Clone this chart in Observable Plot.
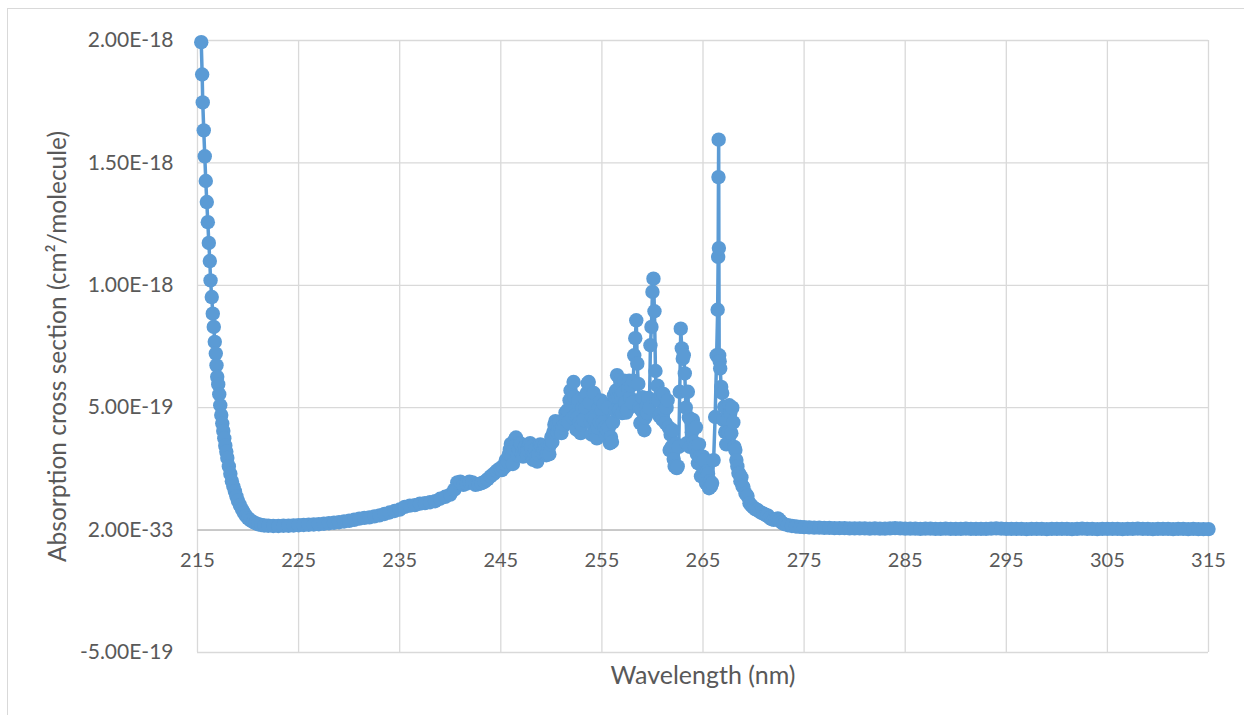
<!DOCTYPE html>
<html>
<head>
<meta charset="utf-8">
<script src="https://cdn.jsdelivr.net/npm/d3@7"></script>
<script src="https://cdn.jsdelivr.net/npm/@observablehq/plot@0.6"></script>
<style>
  html, body { margin: 0; padding: 0; background: #fff; }
  #frame { position: absolute; left: 7px; top: 8px; width: 1400px; height: 900px;
           border-left: 1px solid #d9d9d9; border-top: 1px solid #d9d9d9; }
  #chart { position: absolute; left: 0; top: 0; }
</style>
</head>
<body>
<div id="frame"></div>
<div id="chart"></div>
<script>
// Absorption cross section, in units of 1e-19 cm²/molecule, against wavelength in nm.

// Steep short-wavelength edge
const edgeNm = [215.37, 215.46, 215.52, 215.62, 215.72, 215.82, 215.92, 216.02, 216.12, 216.22,
                216.29, 216.41, 216.51, 216.61, 216.71, 216.81, 216.88, 216.95, 217.05, 217.15,
                217.25, 217.35, 217.45, 217.55, 217.65, 217.75, 217.85, 217.95, 218.1, 218.25,
                218.4, 218.55, 218.7, 218.85, 219.0, 219.2, 219.4, 219.6, 219.8, 220.0,
                220.25, 220.5, 220.75, 221.0, 221.3, 221.6, 222.0];
const edgeSigma = [19.93, 18.61, 17.47, 16.33, 15.27, 14.26, 13.40, 12.58, 11.73, 10.99,
                   10.20, 9.52, 8.84, 8.30, 7.69, 7.21, 6.73, 6.26, 5.95, 5.55,
                   5.1, 4.7, 4.35, 4.05, 3.75, 3.45, 3.2, 2.95, 2.6, 2.3,
                   2.0, 1.78, 1.58, 1.38, 1.2, 1.02, 0.85, 0.7, 0.58, 0.48,
                   0.4, 0.33, 0.28, 0.24, 0.21, 0.19, 0.18];

// Slowly rising continuum
const plateauNm = [222.5, 223, 223.5, 224, 224.5, 225, 225.5, 226, 226.5, 227,
                   227.5, 228, 228.5, 229, 229.5, 230, 230.5, 231, 231.5, 232,
                   232.5, 233, 233.5, 234, 234.5, 235, 235.5, 236, 236.5, 237,
                   237.5, 238, 238.5, 239, 239.5, 240, 240.4, 240.7, 241.0, 241.3,
                   241.6, 241.9, 242.2, 242.5, 242.8, 243.1, 243.4, 243.7, 244.0, 244.3,
                   244.6, 244.85];
const plateauSigma = [0.17, 0.17, 0.18, 0.18, 0.19, 0.2, 0.21, 0.22, 0.23, 0.24,
                      0.26, 0.28, 0.3, 0.32, 0.35, 0.38, 0.42, 0.47, 0.5, 0.52,
                      0.56, 0.6, 0.66, 0.72, 0.78, 0.84, 0.95, 1.0, 1.02, 1.08,
                      1.1, 1.14, 1.18, 1.28, 1.36, 1.45, 1.65, 1.95, 1.98, 1.85,
                      1.9, 1.98, 1.95, 1.85, 1.88, 1.92, 1.98, 2.08, 2.2, 2.3,
                      2.42, 2.5];

// Vibronic band structure, 245.0–265.9 nm
const bandNm = [245.0, 245.1, 245.2, 245.3, 245.4, 245.5, 245.6, 245.7, 245.8, 245.9,
                246.0, 246.1, 246.2, 246.3, 246.4, 246.5, 246.6, 246.7, 246.8, 246.9,
                247.0, 247.1, 247.2, 247.3, 247.4, 247.5, 247.6, 247.7, 247.8, 247.9,
                248.0, 248.1, 248.2, 248.3, 248.4, 248.5, 248.6, 248.7, 248.8, 248.9,
                249.0, 249.1, 249.2, 249.3, 249.4, 249.5, 249.6, 249.7, 249.8, 249.9,
                250.0, 250.1, 250.2, 250.3, 250.4, 250.5, 250.6, 250.7, 250.8, 250.9,
                251.0, 251.1, 251.2, 251.3, 251.4, 251.5, 251.6, 251.7, 251.8, 251.9,
                252.0, 252.1, 252.2, 252.3, 252.4, 252.5, 252.6, 252.7, 252.8, 252.9,
                253.0, 253.1, 253.2, 253.3, 253.4, 253.5, 253.6, 253.7, 253.8, 253.9,
                254.0, 254.1, 254.2, 254.3, 254.4, 254.5, 254.6, 254.7, 254.8, 254.9,
                255.0, 255.1, 255.2, 255.3, 255.4, 255.5, 255.6, 255.7, 255.8, 255.9,
                256.0, 256.1, 256.2, 256.3, 256.4, 256.5, 256.6, 256.7, 256.8, 256.9,
                257.0, 257.1, 257.2, 257.3, 257.4, 257.5, 257.6, 257.7, 257.8, 257.9,
                258.0, 258.1, 258.2, 258.3, 258.4, 258.5, 258.6, 258.7, 258.8, 258.9,
                259.0, 259.1, 259.2, 259.3, 259.4, 259.5, 259.6, 259.7, 259.8, 259.9,
                260.0, 260.1, 260.2, 260.3, 260.4, 260.5, 260.6, 260.7, 260.8, 260.9,
                261.0, 261.1, 261.2, 261.3, 261.4, 261.5, 261.6, 261.7, 261.8, 261.9,
                262.0, 262.1, 262.2, 262.3, 262.4, 262.5, 262.6, 262.7, 262.8, 262.9,
                263.0, 263.1, 263.2, 263.3, 263.4, 263.5, 263.6, 263.7, 263.8, 263.9,
                264.0, 264.1, 264.2, 264.3, 264.4, 264.5, 264.6, 264.7, 264.8, 264.9,
                265.0, 265.1, 265.2, 265.3, 265.4, 265.5, 265.6, 265.7, 265.8, 265.9];
const bandSigma = [2.5, 2.45, 2.6, 2.55, 2.7, 2.86, 2.65, 2.8, 3.1, 3.3,
                   3.52, 3.0, 2.7, 3.3, 3.7, 3.78, 3.5, 3.05, 3.3, 3.55,
                   3.5, 3.1, 3.0, 3.3, 3.4, 3.2, 3.05, 3.3, 3.5, 3.55,
                   3.4, 3.0, 2.87, 3.1, 3.3, 3.0, 2.8, 3.1, 3.4, 3.5,
                   3.45, 3.15, 3.3, 3.45, 3.3, 3.06, 3.1, 3.3, 3.1, 3.5,
                   3.8, 3.6, 4.0, 4.3, 4.45, 4.3, 4.0, 4.2, 4.4, 4.1,
                   3.96, 4.2, 4.5, 4.3, 4.8, 4.5, 4.9, 4.4, 5.3, 5.7,
                   5.4, 4.6, 6.05, 5.44, 4.7, 4.1, 4.6, 5.3, 4.4, 3.96,
                   4.3, 5.0, 4.5, 5.4, 5.0, 5.6, 6.0, 6.05, 5.2, 4.4,
                   3.9, 4.6, 5.6, 4.5, 4.0, 3.75, 4.2, 5.0, 4.4, 5.3,
                   4.9, 4.4, 5.15, 4.2, 3.83, 4.1, 5.0, 4.2, 3.55, 3.8,
                   3.6, 4.4, 5.5, 4.9, 5.7, 6.33, 5.4, 4.9, 6.1, 5.5,
                   4.78, 5.6, 6.1, 5.2, 4.8, 4.9, 5.8, 6.1, 5.4, 5.9,
                   5.2, 6.1, 7.14, 7.84, 8.57, 6.8, 5.97, 5.0, 4.37, 4.9,
                   5.43, 4.5, 4.08, 4.6, 5.0, 4.78, 5.4, 5.0, 7.55, 8.3,
                   9.73, 10.27, 8.94, 6.5, 5.3, 5.9, 5.3, 4.65, 5.56, 4.8,
                   4.5, 5.56, 4.9, 4.37, 5.0, 5.3, 4.2, 3.27, 3.9, 3.4,
                   4.08, 2.9, 2.6, 3.52, 2.53, 2.6, 3.4, 5.65, 8.23, 7.42,
                   7.0, 7.14, 6.4, 5.0, 3.55, 5.65, 4.6, 3.4, 4.5, 4.0,
                   4.5, 3.6, 3.4, 4.2, 3.1, 2.73, 3.5, 3.0, 2.2, 2.6,
                   3.0, 2.86, 2.2, 1.92, 2.4, 2.3, 1.71, 2.0, 1.8, 1.92];

// Sharp line near 266.5 nm and the long-wavelength fall-off
const spikeNm = [266.05, 266.2, 266.35, 266.45, 266.5, 266.53, 266.55, 266.57, 266.6, 266.65,
                 266.7, 266.8, 266.9, 267.0, 267.1, 267.2, 267.3, 267.4, 267.5, 267.6,
                 267.7, 267.8, 267.9, 268.0, 268.1, 268.2, 268.3, 268.4, 268.5, 268.6,
                 268.7, 268.8, 268.9, 269.0, 269.2, 269.4, 269.6, 269.8, 270.0, 270.2,
                 270.4, 270.6, 270.8, 271.0, 271.2, 271.4, 271.6, 271.8, 272.0, 272.2,
                 272.4, 272.6, 272.8, 273.0, 273.4, 273.8, 274.2, 274.6, 275.0];
const spikeSigma = [2.86, 4.62, 7.14, 9.0, 11.16, 14.42, 15.95, 11.52, 7.14, 6.9,
                    6.6, 5.85, 5.6, 4.5, 5.03, 4.0, 3.5, 4.5, 4.0, 5.1,
                    4.78, 3.96, 5.0, 4.4, 3.4, 3.27, 2.86, 2.6, 2.33, 2.3,
                    2.0, 2.16, 1.8, 1.76, 1.5, 1.39, 1.1, 1.0, 0.92, 0.85,
                    0.82, 0.75, 0.7, 0.67, 0.62, 0.6, 0.5, 0.45, 0.42, 0.45,
                    0.48, 0.4, 0.3, 0.25, 0.2, 0.17, 0.15, 0.13, 0.12];

// Flat tail out to 315 nm
const tailNm = [275.5, 276, 276.5, 277, 277.5, 278, 278.5, 279, 279.5, 280,
                280.5, 281, 281.5, 282, 282.5, 283, 283.5, 284, 284.5, 285,
                285.5, 286, 286.5, 287, 287.5, 288, 288.5, 289, 289.5, 290,
                290.5, 291, 291.5, 292, 292.5, 293, 293.5, 294, 294.5, 295,
                295.5, 296, 296.5, 297, 297.5, 298, 298.5, 299, 299.5, 300,
                300.5, 301, 301.5, 302, 302.5, 303, 303.5, 304, 304.5, 305,
                305.5, 306, 306.5, 307, 307.5, 308, 308.5, 309, 309.5, 310,
                310.5, 311, 311.5, 312, 312.5, 313, 313.5, 314, 314.5, 315];
const tailSigma = [0.11, 0.1, 0.1, 0.09, 0.09, 0.08, 0.08, 0.08, 0.07, 0.07,
                   0.07, 0.07, 0.06, 0.07, 0.06, 0.06, 0.07, 0.08, 0.07, 0.06,
                   0.06, 0.06, 0.05, 0.06, 0.06, 0.05, 0.05, 0.06, 0.05, 0.05,
                   0.05, 0.06, 0.05, 0.05, 0.05, 0.05, 0.06, 0.07, 0.06, 0.05,
                   0.05, 0.05, 0.05, 0.04, 0.05, 0.05, 0.05, 0.04, 0.05, 0.05,
                   0.05, 0.05, 0.04, 0.05, 0.06, 0.05, 0.05, 0.04, 0.05, 0.05,
                   0.05, 0.05, 0.04, 0.05, 0.05, 0.06, 0.05, 0.05, 0.04, 0.05,
                   0.05, 0.05, 0.04, 0.05, 0.05, 0.04, 0.05, 0.04, 0.04, 0.04];

// Axis ticks and their labels
const xTicks = [215, 225, 235, 245, 255, 265, 275, 285, 295, 305, 315];
const yTicks = [-5, 0, 5, 10, 15, 20];
const yTickLabels = ["-5.00E-19", "2.00E-33", "5.00E-19", "1.00E-18", "1.50E-18", "2.00E-18"];

const xTitle = "Wavelength (nm)";
const yTitle = "Absorption cross section (cm\u00B2/molecule)";

const blue = "#5B9BD5";
const grid = "#d9d9d9";
const ink = "#595959";

const nm = [...edgeNm, ...plateauNm, ...bandNm, ...spikeNm, ...tailNm];
const sigma = [...edgeSigma, ...plateauSigma, ...bandSigma, ...spikeSigma, ...tailSigma];
const data = nm.map((w, i) => ({nm: w, sigma: sigma[i]}));

const chart = Plot.plot({
  width: 1244,
  height: 715,
  marginLeft: 197,
  marginRight: 36,
  marginTop: 40,
  marginBottom: 63,
  x: {domain: [215, 315], axis: null},
  y: {domain: [-5, 20], axis: null},
  style: {fontFamily: "Lato, 'Open Sans', sans-serif", background: "transparent", color: ink},
  marks: [
    Plot.ruleX(xTicks, {x: d => d, stroke: grid, strokeWidth: 1.3}),
    Plot.ruleY(yTicks, {y: d => d, stroke: grid, strokeWidth: 1.3}),
    Plot.ruleY([0], {y: d => d, stroke: "#bfbfbf", strokeWidth: 1.5}),
    Plot.line(data, {x: "nm", y: "sigma", stroke: blue, strokeWidth: 3.5}),
    Plot.dot(data, {x: "nm", y: "sigma", r: 7.2, fill: blue, stroke: "none"}),
    Plot.text(yTicks, {x: () => 215, y: d => d, text: (d, i) => yTickLabels[i],
      textAnchor: "end", dx: -24, fontSize: 21, fill: ink}),
    Plot.text(xTicks, {x: d => d, y: () => 0, text: d => String(d),
      dy: 30, fontSize: 20, fill: ink}),
    Plot.text([xTitle], {frameAnchor: "bottom", dy: 23, lineAnchor: "middle",
      text: d => d, fontSize: 25, fill: ink}),
    Plot.text([yTitle], {frameAnchor: "left", rotate: -90, dx: -139, textAnchor: "middle",
      lineAnchor: "middle", text: d => d, fontSize: 24.5, fill: ink})
  ]
});
document.getElementById("chart").appendChild(chart);
</script>
</body>
</html>
